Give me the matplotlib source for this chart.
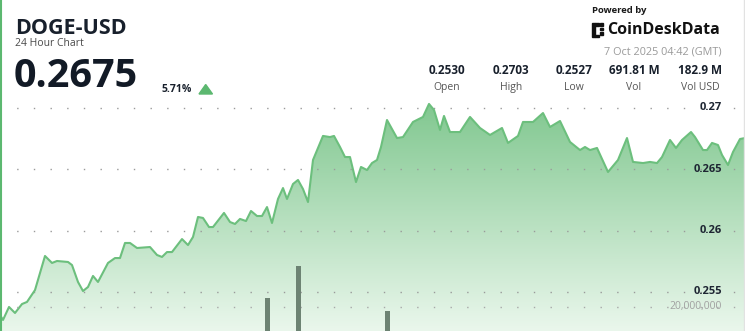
import numpy as np
import matplotlib
matplotlib.use('Agg')
import matplotlib.pyplot as plt
from matplotlib.patches import Polygon, Rectangle

plt.rcParams['font.family'] = ['Open Sans', 'DejaVu Sans']

# ---- data ----
# time position along the 24h window (0..745 units, no axis labels shown)
t = [0, 3, 9, 15, 22, 27, 35, 45, 52, 57, 68, 72, 78, 83, 88, 93, 98, 108, 115, 120,
     125, 130, 137, 150, 157, 162, 167, 172, 182, 188, 193, 198, 203, 209, 213, 224,
     230, 235, 240, 246, 251, 257, 262, 267, 272, 278, 283, 287, 293, 298, 303, 308,
     313, 323, 330, 334, 340, 345, 350, 356, 361, 367, 372, 377, 381, 387, 397, 403,
     413, 423, 429, 434, 440, 444, 450, 460, 470, 480, 490, 502, 508, 518, 523, 533,
     543, 550, 560, 570, 580, 585, 590, 597, 608, 618, 627, 633, 643, 650, 657, 662,
     670, 676, 682, 691, 695, 703, 707, 712, 718, 722, 728, 733, 740, 745]
price = [0.25312, 0.25271, 0.25377, 0.25328, 0.25401, 0.25418, 0.25515, 0.25793, 0.25736, 0.25752,
         0.25744, 0.25719, 0.25581, 0.25507, 0.25540, 0.25630, 0.25581, 0.25736, 0.25776, 0.25776,
         0.25899, 0.25899, 0.25858, 0.25866, 0.25801, 0.25785, 0.25825, 0.25825, 0.25931, 0.25882,
         0.25948, 0.26111, 0.26103, 0.26029, 0.26029, 0.26144, 0.26070, 0.26054, 0.26095, 0.26078,
         0.26160, 0.26119, 0.26119, 0.26192, 0.26062, 0.26258, 0.26347, 0.26258, 0.26380, 0.26413,
         0.26339, 0.26233, 0.26576, 0.26772, 0.26763, 0.26772, 0.26682, 0.26600, 0.26600, 0.26396,
         0.26519, 0.26494, 0.26551, 0.26576, 0.26682, 0.26902, 0.26755, 0.26763, 0.26886, 0.26927,
         0.27033, 0.26984, 0.26821, 0.26935, 0.26804, 0.26804, 0.26927, 0.26837, 0.26780, 0.26837,
         0.26715, 0.26772, 0.26886, 0.26886, 0.26959, 0.26845, 0.26894, 0.26723, 0.26657, 0.26682,
         0.26657, 0.26674, 0.26478, 0.26576, 0.26755, 0.26560, 0.26551, 0.26560, 0.26551, 0.26600,
         0.26739, 0.26674, 0.26739, 0.26804, 0.26763, 0.26657, 0.26657, 0.26715, 0.26698, 0.26617,
         0.26535, 0.26641, 0.26747, 0.26755]

vol_t = [267, 298, 387]
vol = [22.3e6, 30.3e6, 19.0e6]

price_ticks = [0.27, 0.265, 0.26, 0.255]
price_tick_labels = ['0.27', '0.265', '0.26', '0.255']
vol_ticks = [20e6]
vol_tick_labels = ['20,000,000']

stat_values = ['0.2530', '0.2703', '0.2527', '691.81 M', '182.9 M']
stat_labels = ['Open', 'High', 'Low', 'Vol', 'Vol USD']

W, H = 745, 331
fig = plt.figure(figsize=(W / 100, H / 100), dpi=100)
fig.patch.set_facecolor('white')


def fx(x):
    return x / W


def fy(y):
    return 1 - y / H


# chart area: pixel rows 95..331
ax_top = 95
ax = fig.add_axes([0, 0, 1, (H - ax_top) / H])
ylo, yhi = 0.25181, 0.27106
ax.set_xlim(0, 745)
ax.set_ylim(ylo, yhi)
ax.axis('off')

# gradient fill under the line
poly = ax.fill_between(t, price, ylo, color='none', lw=0)
top_c = np.array([128, 199, 143]) / 255
bot_c = np.array([234, 247, 236]) / 255
f = np.linspace(0, 1, 256)[:, None]
grad = (bot_c[None, :] * (1 - f) + top_c[None, :] * f)[:, None, :]
im = ax.imshow(grad, extent=[0, 745, ylo, 0.2705], aspect='auto', origin='lower', zorder=1)
im.set_clip_path(poly.get_paths()[0], transform=ax.transData)
ax.set_xlim(0, 745)
ax.set_ylim(ylo, yhi)

for v, lab in zip(price_ticks, price_tick_labels):
    ax.axhline(v, color='#9a9a9a', lw=1.0, ls=(0, (1, 11)), zorder=2)
    ax.text(722, v, lab, ha='right', va='center', fontsize=8, fontweight='bold',
            color='#1e2633', zorder=5)

ax.plot(t, price, color='#6cbf7d', lw=1.5, zorder=4, solid_joinstyle='round')

# volume bars on their own scale
ax2 = fig.add_axes([0, 0, 1, (H - ax_top) / H], sharex=ax)
ax2.patch.set_visible(False)
ax2.set_ylim(14e6, 73e6)
ax2.axis('off')
ax2.bar(vol_t, vol, width=5, color='#6d8373', zorder=3)
for v, lab in zip(vol_ticks, vol_tick_labels):
    ax2.axhline(v, color='#a8a8a8', lw=1.0, ls=(0, (1, 11)), zorder=2)
    ax2.text(722, v, lab, ha='right', va='center', fontsize=7.5, color='#a0a0a0', zorder=5)

# header left
fig.text(fx(15), fy(28), 'DOGE-USD', fontsize=15.5, fontweight='bold', color='#18202c',
         va='center', ha='left')
fig.text(fx(15), fy(44), '24 Hour Chart', fontsize=7.5, color='#4a4a4a', va='center', ha='left')
fig.text(fx(14), fy(77), '0.2675', fontsize=28.5, fontweight='bold', color='#121a26',
         va='center', ha='left')
fig.text(fx(161), fy(90), '5.71%', fontsize=7.5, fontweight='bold', color='#18202c',
         va='center', ha='left')
fig.add_artist(Polygon([[fx(199), fy(94)], [fx(212.5), fy(94)], [fx(205.7), fy(84.5)]],
                       closed=True, color='#5cb870', transform=fig.transFigure))

# header right
fig.text(fx(592), fy(10.5), 'Powered by', fontsize=6.8, fontweight='bold', color='#1a1a1a',
         va='center', ha='left')
for (x0, y0, w, h) in [(592, 23, 3, 14), (595, 23, 4, 2.5), (595, 34.5, 4, 2.5),
                       (600, 23, 3, 2.5), (600, 27.5, 2.5, 2.5), (600, 32, 2.5, 2.5)]:
    fig.add_artist(Rectangle((fx(x0), fy(y0 + h)), w / W, h / H, color='#111111',
                             transform=fig.transFigure))
fig.text(fx(607), fy(30.5), 'CoinDeskData', fontsize=11.5, fontweight='bold', color='#111111',
         va='center', ha='left')
fig.text(fx(722), fy(52), '7 Oct 2025 04:42 (GMT)', fontsize=7.8, color='#9a9a9a',
         va='center', ha='right')

stat_x = [447, 511, 574, 634, 700]
for x, val, lab in zip(stat_x, stat_values, stat_labels):
    fig.text(fx(x), fy(70.5), val, fontsize=8.5, fontweight='bold', color='#18202c',
             va='center', ha='center')
    fig.text(fx(x), fy(87.5), lab, fontsize=7.5, color='#555555', va='center', ha='center')

# card borders
fig.add_artist(plt.Line2D([fx(1), fx(1)], [0, 1], color='#5cb870', lw=1.5,
                          transform=fig.transFigure))
fig.add_artist(plt.Line2D([fx(744), fx(744)], [0, 1], color='#e2e2e2', lw=1.0,
                          transform=fig.transFigure))

fig.savefig('out.png', dpi=100)
